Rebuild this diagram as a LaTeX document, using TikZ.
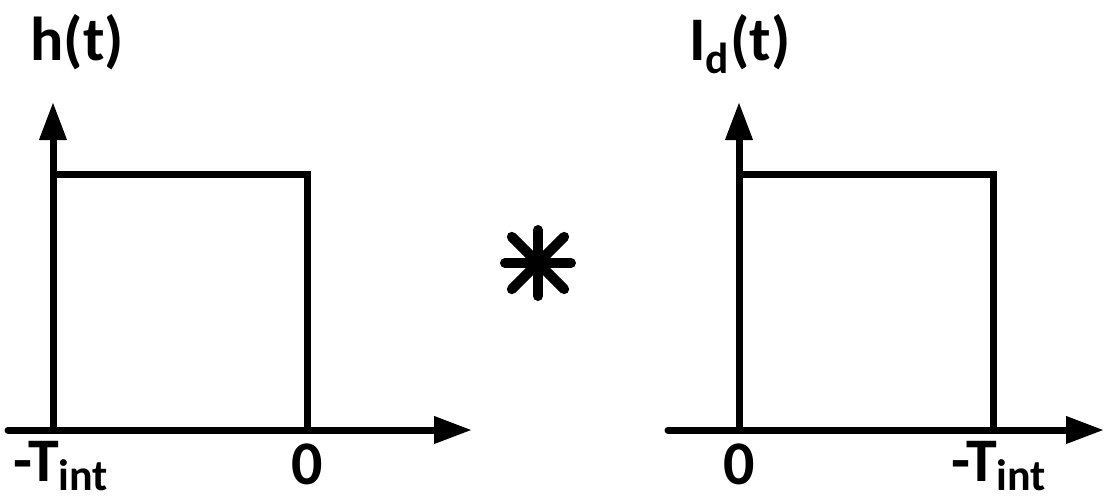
\documentclass[tikz,border=0pt]{standalone}
\usepackage{fontspec}
\setmainfont{Carlito}
\usetikzlibrary{arrows.meta}
\newcommand{\intsub}{\raisebox{-0.16em}{\fontsize{22}{26}\selectfont int}}
\tikzset{
    % Axis and pulse styles
    axis/.style={
        line width=3.5pt,
        line cap=round,
        -{Triangle[length=19pt,width=13pt]}
    },
    pulse/.style={
        line width=3.5pt
    },
    convstar/.style={
        line width=5pt,
        line cap=round
    },
    % Label style
    lbl/.style={
        inner sep=0pt,
        font=\fontsize{31}{36}\selectfont\bfseries
    }
}
\begin{document}
\begin{tikzpicture}[x=0.5pt,y=-0.5pt]
    \useasboundingbox (0,0) rectangle (1105,500);

    % Left plot: h(t)
    \coordinate (hxs) at (8,430);
    \coordinate (hxe) at (472,430);
    \coordinate (ho) at (53,430);
    \coordinate (hye) at (53,102);
    \coordinate (htl) at (53,174);
    \coordinate (htr) at (307,174);
    \coordinate (hbr) at (307,430);
    \draw[axis] (hxs) -- (hxe);
    \draw[axis] (ho) -- (hye);
    \draw[pulse] (htl) -- (htr) -- (hbr);
    \node[lbl,anchor=base west] (hname) at (30,60) {h(t)};
    \node[lbl,anchor=base west] (hneg) at (13,481) {-T\intsub};
    \node[lbl,anchor=base] (hzero) at (307,484) {0};

    % Convolution sign
    \coordinate (conv) at (538,263);
    \foreach \a/\r in {0/33,45/37,90/33,135/37}
        \draw[convstar] (conv) ++(\a:\r) -- ++(\a+180:2*\r);

    % Right plot: I_d(t)
    \coordinate (ixs) at (668,430);
    \coordinate (ixe) at (1104,430);
    \coordinate (io) at (739,430);
    \coordinate (iye) at (739,102);
    \coordinate (itl) at (739,174);
    \coordinate (itr) at (993,174);
    \coordinate (ibr) at (993,430);
    \draw[axis] (ixs) -- (ixe);
    \draw[axis] (io) -- (iye);
    \draw[pulse] (itl) -- (itr) -- (ibr);
    \node[lbl,anchor=base west] (iname) at (689,60) {I\textsubscript{d}(t)};
    \node[lbl,anchor=base] (izero) at (739,484) {0};
    \node[lbl,anchor=base west] (ineg) at (951,481) {-T\intsub};
\end{tikzpicture}
\end{document}
